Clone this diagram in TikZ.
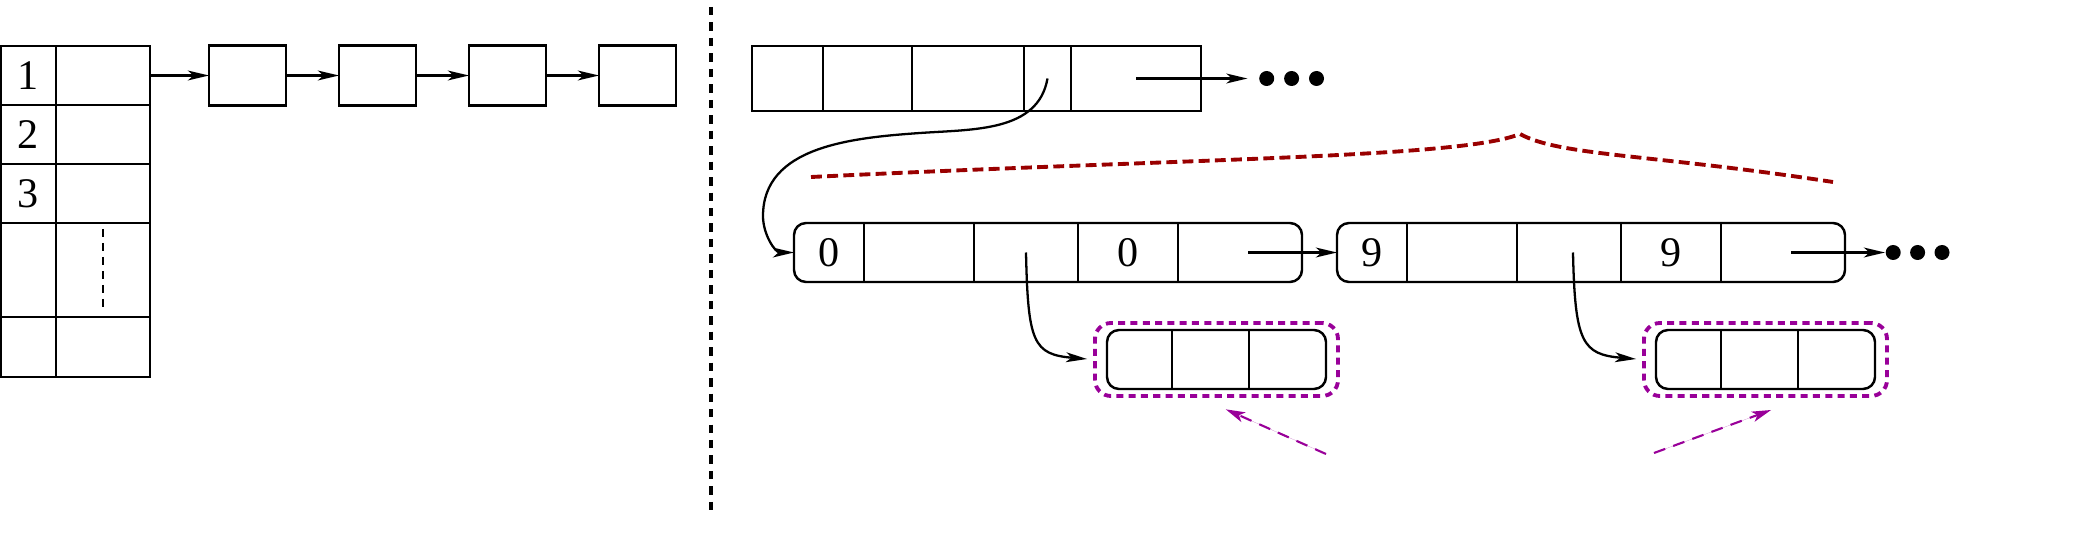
\documentclass[tikz,border=0pt]{standalone}
\usepackage{fontspec}
\setmainfont{Liberation Serif}
\usetikzlibrary{arrows.meta,positioning,calc,fit}
\definecolor{bracered}{RGB}{153,0,0}
\definecolor{hintpurple}{RGB}{153,0,153}

\begin{document}
\begin{tikzpicture}[x=0.1mm, y=0.1mm,
    font=\fontsize{12pt}{14pt}\selectfont,
    tabcell/.style={draw, line width=0.6pt, inner sep=0pt, outer sep=0pt},
    listbox/.style={draw, line width=0.6pt, minimum width=7.7mm, minimum height=6mm, inner sep=0pt, outer sep=0pt},
    arraycell/.style={draw, line width=0.45pt, minimum height=6.5mm, inner sep=0pt, outer sep=0pt},
    field/.style={minimum height=5.9mm, inner sep=0pt, outer sep=0pt},
    recbox/.style={draw, line width=0.7pt, rounded corners=1.2mm, inner sep=0pt, outer sep=0pt},
    divider/.style={line width=0.6pt},
    markbox/.style={draw=hintpurple, line width=1.1pt, dash pattern=on 2pt off 1.5pt, rounded corners=1.6mm, inner xsep=1.2mm, inner ysep=0.7mm},
    ptr/.style={-{Stealth[length=6pt,width=2.8pt,inset=1.6pt]}, line width=0.65pt},
    hint/.style={-{Stealth[length=5.5pt,width=3pt,inset=1.4pt]}, draw=hintpurple, fill=hintpurple, line width=0.6pt, dash pattern=on 3.4pt off 2.4pt},
    dot/.style={circle, fill, inner sep=0pt, minimum size=1.5mm},
    brace/.style={draw=bracered, line width=1.1pt, dash pattern=on 3.1pt off 1.5pt},
    sep/.style={line width=1.1pt, dash pattern=on 2.4pt off 2pt}]

  \useasboundingbox (0,0) rectangle (2078,536);

  % left: table with one chain
  \foreach \lab/\ty/\h [count=\i] in {1/490/59, 2/431/59, 3/372/59, {}/313/94, {}/219/60} {
    \node[tabcell, anchor=north west, minimum width=5.5mm, minimum height=\h*0.1mm] (idx\i) at (1,\ty) {\lab};
    \node[tabcell, anchor=north west, minimum width=9.4mm, minimum height=\h*0.1mm] (slot\i) at (56,\ty) {};
  }
  \draw[line width=0.6pt, dash pattern=on 0.8mm off 0.6mm, shorten <=0.6mm, shorten >=0.5mm] (slot4.north) -- (slot4.south);

  \node[listbox, right=5.9mm of slot1] (e1) {};
  \foreach \i [count=\j from 2] in {1,2,3}
    \node[listbox, right=5.3mm of e\i] (e\j) {};
  \draw[ptr] (slot1.east) -- (e1.west);
  \foreach \i [count=\j from 2] in {1,2,3}
    \draw[ptr] (e\i.east) -- (e\j.west);

  % separator
  \draw[sep] (711,529) -- (711,22);

  % right: top array
  \foreach \a/\b [count=\i] in {752/823, 823/912, 912/1024, 1024/1071, 1071/1201}
    \node[arraycell, anchor=north west, minimum width={(\b-\a)*0.1mm}] (t\i) at (\a,490) {};
  \node[dot, right=5.75mm of t5] (tdot1) {};
  \node[dot, right=0.85mm of tdot1] (tdot2) {};
  \node[dot, right=0.85mm of tdot2] (tdot3) {};
  \draw[ptr, shorten >=1.1mm] (t5.center) -- (tdot1.west);

  % records
  \foreach \x/\w/\lab [count=\i] in {794/70/0, 864/110/{}, 974/104/{}, 1078/100/0, 1178/124/{}}
    \node[field, anchor=west, minimum width=\w*0.1mm] (ra\i) at (\x,283.5) {\lab};
  \node[recbox, fit=(ra1)(ra5)] (reca) {};
  \foreach \x/\w/\lab [count=\i] in {1337/70/9, 1407/110/{}, 1517/104/{}, 1621/100/9, 1721/124/{}}
    \node[field, anchor=west, minimum width=\w*0.1mm] (rb\i) at (\x,283.5) {\lab};
  \node[recbox, fit=(rb1)(rb5)] (recb) {};
  \foreach \i in {1,...,4} {
    \draw[divider] (ra\i.north east) -- (ra\i.south east);
    \draw[divider] (rb\i.north east) -- (rb\i.south east);
  }
  \node[dot, right=4mm of recb] (bdot1) {};
  \node[dot, right=0.8mm of bdot1] (bdot2) {};
  \node[dot, right=0.8mm of bdot2] (bdot3) {};

  % sub records
  \foreach \x/\w [count=\i] in {1107/65, 1172/77, 1249/77}
    \node[field, anchor=west, minimum width=\w*0.1mm] (sa\i) at (\x,176.5) {};
  \node[recbox, fit=(sa1)(sa3)] (suba) {};
  \foreach \x/\w [count=\i] in {1656/65, 1721/77, 1798/77}
    \node[field, anchor=west, minimum width=\w*0.1mm] (sb\i) at (\x,176.5) {};
  \node[recbox, fit=(sb1)(sb3)] (subb) {};
  \foreach \i in {1,2} {
    \draw[divider] (sa\i.north east) -- (sa\i.south east);
    \draw[divider] (sb\i.north east) -- (sb\i.south east);
  }
  \node[markbox, fit=(suba)] (marka) {};
  \node[markbox, fit=(subb)] (markb) {};

  % pointers
  \draw[ptr] (t4.center) to[out=-100,in=4] (920,403) to[out=184,in=90] (763,320) to[out=-90,in=180] (reca.west);
  \draw[ptr] ([xshift=0.8mm]ra5.center) -- (recb.west);
  \draw[ptr] ([xshift=0.8mm]rb5.center) -- (bdot1.west);
  \draw[ptr, shorten >=0.6mm] (ra3.center) .. controls +(0.2mm,-9mm) and +(-6mm,0.5mm) .. (marka.west);
  \draw[ptr, shorten >=0.6mm] ([xshift=0.4mm]rb3.center) .. controls +(0.2mm,-9mm) and +(-6mm,0.5mm) .. (markb.west);

  % brace over the records
  \draw[brace] (811,359) .. controls (1200,378) and (1460,378) .. (1520,402)
    .. controls (1560,380) and (1650,382) .. (1833,354);

  % hints
  \coordinate (hinta) at (1326,82);
  \coordinate (hintb) at (1654,83);
  \draw[hint, shorten >=2.8mm] (hinta) -- (marka.-113);
  \draw[hint, shorten >=3.5mm] (hintb) -- (markb.-45);
\end{tikzpicture}
\end{document}
